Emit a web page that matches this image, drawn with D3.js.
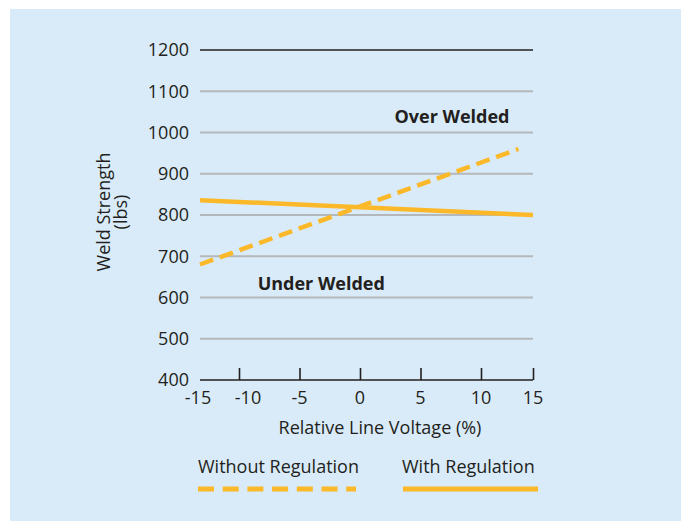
<!DOCTYPE html>
<html><head><meta charset="utf-8">
<script src="https://cdn.jsdelivr.net/npm/d3@7"></script>
<style>body{margin:0;background:#fff}svg{display:block}text{font-family:"Open Sans",sans-serif;fill:#231f20}</style>
</head><body>
<script>
// Data
const xTicks = [-15, -10, -5, 0, 5, 10, 15];
const yTicks = [400, 500, 600, 700, 800, 900, 1000, 1100, 1200];
const withoutRegX = [-15, 13.6];
const withoutRegY = [680, 960];
const withRegX = [-15, 15];
const withRegY = [836, 800];
const seriesNames = ["Without Regulation", "With Regulation"];
const annotations = [{text: "Over Welded", x: 7.6, y: 1022}, {text: "Under Welded", x: -3.2, y: 618}];

const W = 681, H = 521, FS = 18;
const svg = d3.select("body").append("svg").attr("width", W).attr("height", H);
svg.append("rect").attr("x", 10).attr("y", 9).attr("width", W - 10).attr("height", H - 9).attr("fill", "#d9ebf8");

const orange = "#fbb829";
const x = d3.scaleLinear().domain([-15, -10, 10, 15]).range([200, 239, 481, 533]);
const y = d3.scaleLinear().domain([400, 1200]).range([380, 50]);

// gridlines
svg.append("g").selectAll("line").data(yTicks.filter(d => d > 400)).join("line")
  .attr("x1", 200).attr("x2", 533).attr("y1", d => y(d)).attr("y2", d => y(d))
  .attr("stroke", d => d === 1200 ? "#231f20" : "#b5b8ba").attr("stroke-width", d => d === 1200 ? 1.6 : 1.8);

// y labels
svg.append("g").selectAll("text").data(yTicks).join("text")
  .attr("x", 189).attr("y", d => y(d)).attr("dy", "0.36em").attr("text-anchor", "end")
  .attr("font-size", FS).text(d => d);

// x axis
const xAxis = d3.axisBottom(x).tickValues(xTicks.filter(d => d > -15)).tickSize(-12).tickFormat("");
const gx = svg.append("g").attr("transform", "translate(0,380)").call(xAxis);
gx.select(".domain").attr("d", "M200,0H533").attr("stroke", "#231f20").attr("stroke-width", 1.6);
gx.selectAll(".tick line").attr("stroke", "#231f20").attr("stroke-width", 1.6);

const labelShift = {"-10": 9, "-15": -2};
svg.append("g").selectAll("text").data(xTicks).join("text")
  .attr("x", d => x(d) + (labelShift[d] || 0)).attr("y", 404).attr("text-anchor", "middle")
  .attr("font-size", FS).text(d => d);

svg.append("text").attr("x", 380).attr("y", 434).attr("text-anchor", "middle").attr("font-size", FS)
  .text("Relative Line Voltage (%)");

// y title
const yt = svg.append("text").attr("transform", "translate(112,212) rotate(-90)").attr("text-anchor", "middle").attr("font-size", FS);
yt.append("tspan").attr("x", 0).attr("y", -2).text("Weld Strength");
yt.append("tspan").attr("x", 0).attr("y", 15).text("(lbs)");

// lines
const line = d3.line().x(d => x(d[0])).y(d => y(d[1]));
svg.append("path").datum(withoutRegX.map((v, i) => [v, withoutRegY[i]]))
  .attr("d", line).attr("fill", "none").attr("stroke", orange).attr("stroke-width", 4.5)
  .attr("stroke-dasharray", "14,7");
svg.append("path").datum(withRegX.map((v, i) => [v, withRegY[i]]))
  .attr("d", line).attr("fill", "none").attr("stroke", orange).attr("stroke-width", 4.5);

// annotations
svg.append("g").selectAll("text").data(annotations).join("text")
  .attr("x", d => x(d.x)).attr("y", d => y(d.y)).attr("text-anchor", "middle")
  .attr("font-size", FS).attr("font-weight", "bold").text(d => d.text);

// legend
svg.append("text").attr("x", 198).attr("y", 473).attr("font-size", FS).text(seriesNames[0]);
svg.append("text").attr("x", 402).attr("y", 473).attr("font-size", FS).text(seriesNames[1]);
svg.append("line").attr("x1", 198).attr("x2", 356).attr("y1", 489).attr("y2", 489)
  .attr("stroke", orange).attr("stroke-width", 5).attr("stroke-dasharray", "16,8.7");
svg.append("line").attr("x1", 403).attr("x2", 538).attr("y1", 489).attr("y2", 489)
  .attr("stroke", orange).attr("stroke-width", 5);
</script>
</body></html>
